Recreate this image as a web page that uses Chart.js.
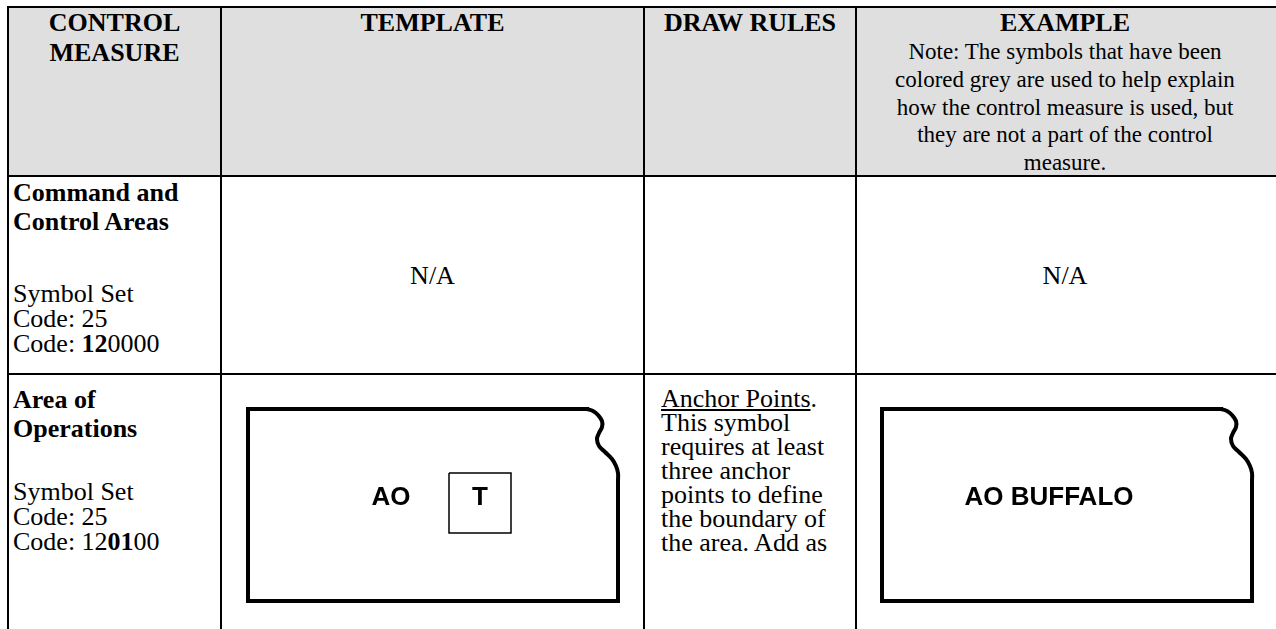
<!DOCTYPE html>
<html>
<head>
<meta charset="utf-8">
<script src="https://cdn.jsdelivr.net/npm/chart.js@4.4.1/dist/chart.umd.min.js"></script>
<style>
  body { margin:0; background:#fff; width:1276px; height:629px; overflow:hidden; position:relative;
         font-family:"Liberation Serif","Times New Roman",serif; color:#000; }
  .hd { position:absolute; left:8px; top:8px; width:1268px; height:167px; background:#dfdfdf; }
  .ln { position:absolute; background:#000; }
  .t  { position:absolute; font-size:26px; white-space:nowrap; }
  .c  { text-align:center; }
  .b  { font-weight:bold; }
  .note { font-size:23px; line-height:27.8px; font-weight:normal; }
  #shapes { position:absolute; left:0; top:0; }
</style>
</head>
<body>
<div class="hd"></div>

<!-- header -->
<div class="t c b" style="left:9px;width:211px;top:8px;line-height:30px">CONTROL<br>MEASURE</div>
<div class="t c b" style="left:222px;width:421px;top:8px;line-height:30px">TEMPLATE</div>
<div class="t c b" style="left:645px;width:210px;top:8px;line-height:30px">DRAW RULES</div>
<div class="t c b" style="left:857px;width:416px;top:8px;line-height:30px">EXAMPLE</div>
<div class="t c note" style="left:857px;width:416px;top:38px">Note: The symbols that have been<br>colored grey are used to help explain<br>how the control measure is used, but<br>they are not a part of the control<br>measure.</div>

<!-- row: command and control areas -->
<div class="t b" style="left:13px;top:178px;line-height:29px">Command and<br>Control Areas</div>
<div class="t" style="left:13px;top:281px;line-height:25px">Symbol Set<br>Code: 25<br>Code: <b>12</b>0000</div>
<div class="t c" style="left:222px;width:421px;top:261px;line-height:30px">N/A</div>
<div class="t c" style="left:857px;width:416px;top:261px;line-height:30px">N/A</div>

<!-- row: area of operations -->
<div class="t b" style="left:13px;top:385px;line-height:29px">Area of<br>Operations</div>
<div class="t" style="left:13px;top:479px;line-height:25px">Symbol Set<br>Code: 25<br>Code: 12<b>01</b>00</div>
<div class="t" style="left:661px;top:387px;line-height:24px"><u>Anchor Points</u>.<br>This symbol<br>requires at least<br>three anchor<br>points to define<br>the boundary of<br>the area. Add as</div>

<!-- table rules -->
<div class="ln" style="left:7px;top:6px;width:1269px;height:2px"></div>
<div class="ln" style="left:7px;top:175px;width:1269px;height:2px"></div>
<div class="ln" style="left:7px;top:373px;width:1269px;height:2px"></div>
<div class="ln" style="left:7px;top:6px;width:2px;height:623px"></div>
<div class="ln" style="left:220px;top:6px;width:2px;height:623px"></div>
<div class="ln" style="left:643px;top:6px;width:2px;height:623px"></div>
<div class="ln" style="left:855px;top:6px;width:2px;height:623px"></div>

<canvas id="shapes" width="1276" height="629"></canvas>

<script>
// outline of the area symbol, relative to its top-left corner
const edgeX = [339, 0, 0, 370, 370];
const edgeY = [0, 0, 192, 192, 72];
const waveX = [339, 345, 350, 354, 354, 351, 349, 351, 357, 364, 368, 370, 370];
const waveY = [0, 2, 6, 12, 18, 24, 30, 37, 43, 50, 57, 64, 72];

// "T" box inside the template symbol
const boxX = [201, 263, 263, 201, 201];
const boxY = [64, 64, 124, 124, 64];

// symbol placements (template, example)
const shapeLeft = [248, 882];
const shapeTop = 409;

// text inside the symbols
const labelText = ["AO", "T", "AO BUFFALO"];
const labelShape = [0, 0, 1];
const labelX = [143, 232, 167];
const labelY = [89, 89, 89];

const toPoints = (xs, ys, dx, dy) => xs.map((x, i) => ({ x: x + dx, y: ys[i] + dy }));

const datasets = [];
shapeLeft.forEach((left) => {
    datasets.push({
        data: toPoints(edgeX, edgeY, left, shapeTop),
        showLine: true, borderColor: "#000", borderWidth: 4, pointRadius: 0,
        tension: 0, borderJoinStyle: "miter", borderCapStyle: "square", fill: false,
    });
    datasets.push({
        data: toPoints(waveX, waveY, left, shapeTop),
        showLine: true, borderColor: "#000", borderWidth: 4, pointRadius: 0,
        tension: 0.4, borderCapStyle: "round", fill: false,
    });
});
datasets.push({
    data: toPoints(boxX, boxY, shapeLeft[0], shapeTop),
    showLine: true, borderColor: "#000", borderWidth: 1.5, pointRadius: 0,
    tension: 0, borderJoinStyle: "miter", fill: false,
});

// writes the labels at their data positions
const labelPlugin = {
    id: "labels",
    afterDatasetsDraw(chart) {
        const ctx = chart.ctx;
        const xs = chart.scales.x, ys = chart.scales.y;
        ctx.save();
        ctx.fillStyle = "#000";
        ctx.font = 'bold 26px "Liberation Sans", Arial, sans-serif';
        ctx.textAlign = "center";
        ctx.textBaseline = "middle";
        labelText.forEach((txt, i) => {
            const px = xs.getPixelForValue(labelX[i] + shapeLeft[labelShape[i]]);
            const py = ys.getPixelForValue(labelY[i] + shapeTop);
            ctx.fillText(txt, px, py);
        });
        ctx.restore();
    },
};

new Chart(document.getElementById("shapes"), {
    type: "scatter",
    data: { datasets },
    options: {
        responsive: false,
        animation: false,
        devicePixelRatio: 1,
        events: [],
        layout: { padding: 0 },
        plugins: { legend: { display: false }, tooltip: { enabled: false } },
        scales: {
            x: { type: "linear", display: false, min: 0, max: 1276 },
            y: { type: "linear", display: false, min: 0, max: 629, reverse: true },
        },
    },
    plugins: [labelPlugin],
});
</script>
</body>
</html>
